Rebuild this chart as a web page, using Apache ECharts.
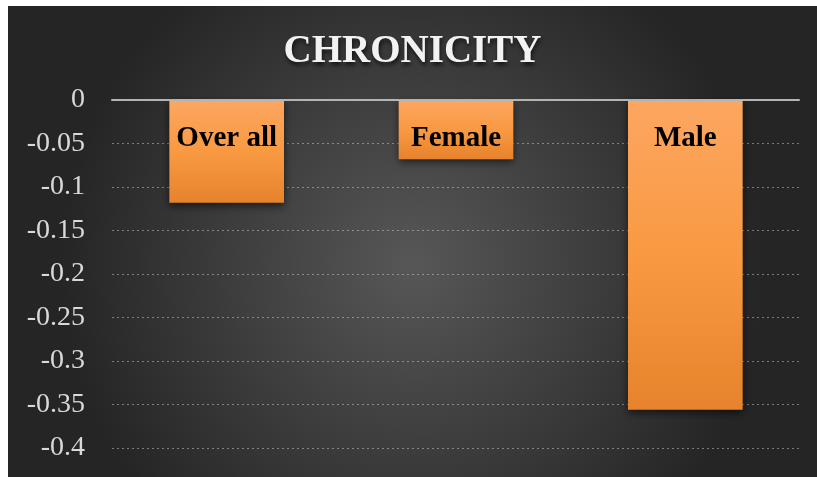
<!DOCTYPE html>
<html>
<head>
<meta charset="utf-8">
<script src="https://cdn.jsdelivr.net/npm/echarts@6/dist/echarts.min.js"></script>
<style>
html,body{margin:0;padding:0;background:#ffffff;width:817px;height:477px;overflow:hidden;}
#chart{position:absolute;left:8px;top:6px;width:809px;height:471px;}
</style>
</head>
<body>
<div id="chart"></div>
<script>
const titleText = 'CHRONICITY';
const categories = ['Over all', 'Female', 'Male'];
const values = [-0.118, -0.068, -0.356];
const yTicks = [0, -0.05, -0.1, -0.15, -0.2, -0.25, -0.3, -0.35, -0.4];

const chart = echarts.init(document.getElementById('chart'));
const serif = '"Liberation Serif","DejaVu Serif",serif';
chart.setOption({
  animation: false,
  backgroundColor: {
    type: 'radial', x: 0.5, y: 0.55, r: 0.75,
    colorStops: [
      {offset: 0, color: '#575757'},
      {offset: 1, color: '#252525'}
    ]
  },
  title: {
    text: titleText,
    left: 'center',
    top: 21,
    textStyle: {
      fontFamily: serif, fontWeight: 'bold', fontSize: 39, color: '#f2f2f2',
      textShadowColor: 'rgba(0,0,0,0.7)', textShadowBlur: 4, textShadowOffsetX: 1, textShadowOffsetY: 3
    }
  },
  grid: {left: 104, right: 17, top: 94, bottom: 29},
  xAxis: {
    type: 'category',
    data: categories,
    position: 'top',
    axisTick: {show: false},
    axisLabel: {show: false},
    axisLine: {show: true, lineStyle: {color: '#b5b5b5', width: 2, type: [3, 1]}},
    z: 5
  },
  yAxis: {
    type: 'value',
    min: -0.4, max: 0, interval: 0.05,
    axisLine: {show: false},
    axisTick: {show: false},
    axisLabel: {
      margin: 27,
      fontFamily: serif, fontSize: 28, color: '#d9d9d9',
      formatter: function (v) {
        const r = Math.round(v * 100) / 100;
        return yTicks.indexOf(r) >= 0 ? String(r) : '';
      }
    },
    splitLine: {show: true, lineStyle: {color: 'rgba(210,210,210,0.5)', width: 1, type: [2, 3]}}
  },
  series: [{
    type: 'bar',
    data: values,
    barWidth: '50%',
    itemStyle: {
      color: {
        type: 'linear', x: 0, y: 0, x2: 0, y2: 1,
        colorStops: [
          {offset: 0, color: '#fca661'},
          {offset: 0.5, color: '#f99a42'},
          {offset: 1, color: '#e6832c'}
        ]
      },
      shadowColor: 'rgba(0,0,0,0.6)', shadowBlur: 8, shadowOffsetY: 3
    },
    label: {
      show: true,
      position: 'insideTop',
      distance: 24,
      formatter: function (p) { return p.name; },
      fontFamily: serif, fontWeight: 'bold', fontSize: 29, color: '#000000'
    }
  }]
});
</script>
</body>
</html>
